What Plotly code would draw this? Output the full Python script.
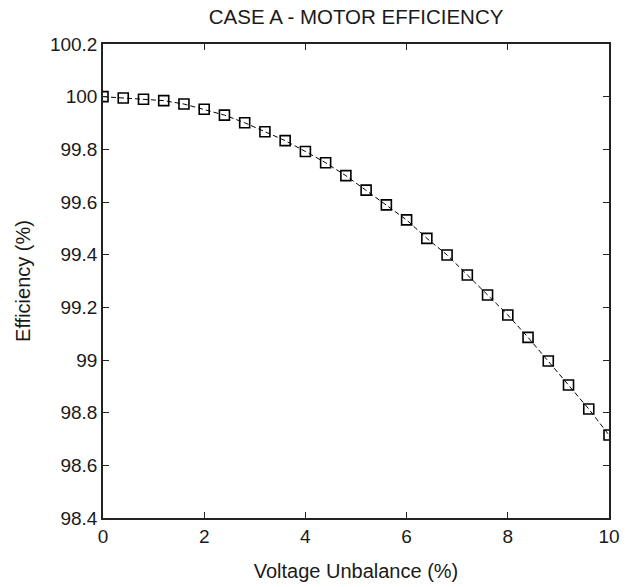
import plotly.graph_objects as go

voltage_unbalance = [0.0, 0.4, 0.8, 1.2, 1.6, 2.0, 2.4, 2.8, 3.2, 3.6, 4.0, 4.4, 4.8,
                     5.2, 5.6, 6.0, 6.4, 6.8, 7.2, 7.6, 8.0, 8.4, 8.8, 9.2, 9.6, 10.0]
efficiency = [100.0, 99.995, 99.99, 99.985, 99.972, 99.952, 99.930, 99.901, 99.867,
              99.833, 99.792, 99.749, 99.700, 99.645, 99.589, 99.532, 99.462, 99.399,
              99.323, 99.247, 99.171, 99.086, 98.996, 98.905, 98.814, 98.715]
x_ticks = [0, 2, 4, 6, 8, 10]
y_ticks = [98.4, 98.6, 98.8, 99.0, 99.2, 99.4, 99.6, 99.8, 100.0, 100.2]
y_tick_text = ["98.4", "98.6", "98.8", "99", "99.2", "99.4", "99.6", "99.8", "100", "100.2"]

FONT = "Liberation Sans, Arial, sans-serif"

fig = go.Figure()
fig.add_trace(go.Scatter(
    x=voltage_unbalance, y=efficiency, mode="lines+markers",
    line=dict(color="black", width=1, dash="5px,3px"),
    marker=dict(symbol="square-open", size=10, color="black", line=dict(width=1.6, color="black")),
    showlegend=False,
))

axis_common = dict(
    showgrid=False, zeroline=False, showline=True, linecolor="#222222", linewidth=1.5,
    mirror="ticks", ticks="inside", ticklen=6, tickwidth=1.2, tickcolor="#222222",
    tickfont=dict(family=FONT, size=19, color="#1a1a1a"), automargin=False,
)

fig.update_layout(
    width=628, height=587,
    margin=dict(l=103, r=19, t=44, b=69),
    paper_bgcolor="white", plot_bgcolor="white",
    title=dict(text="CASE A - MOTOR EFFICIENCY", x=0.567, xanchor="center", y=0.971, yanchor="middle",
               font=dict(family=FONT, size=20.5, color="#1a1a1a")),
    xaxis=dict(range=[0, 10], tickvals=x_ticks, ticktext=[str(v) for v in x_ticks],
               title=dict(text="Voltage Unbalance (%)", standoff=18,
                          font=dict(family=FONT, size=20, color="#1a1a1a")),
               **axis_common),
    yaxis=dict(range=[98.4, 100.2], tickvals=y_ticks, ticktext=y_tick_text,
               title=dict(text="Efficiency (%)", standoff=14,
                          font=dict(family=FONT, size=20, color="#1a1a1a")),
               **axis_common),
)

fig.write_html("out.html")
